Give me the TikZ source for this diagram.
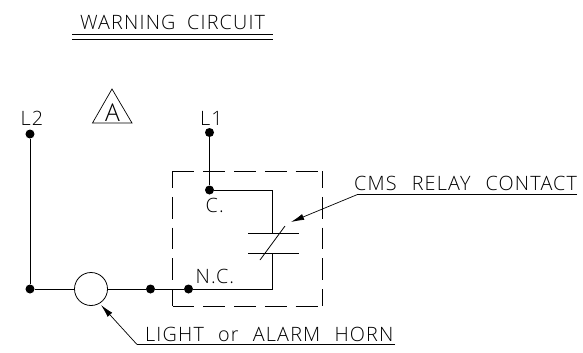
\documentclass[tikz,border=0pt]{standalone}
\usepackage{fontspec}
\setmainfont{Open Sans Light}[LetterSpace=6]
\usepackage{tikz}
\usetikzlibrary{positioning,shapes,arrows.meta}
\tikzset{
  wire/.style={black,line width=0.9pt},
  dot/.style={circle,fill=black,inner sep=0pt,minimum size=0.36cm},
  lamp/.style={circle,draw=black,line width=0.9pt,fill=white,inner sep=0pt,minimum size=1.32cm},
  boxline/.style={black,line width=0.9pt,dash pattern=on 25pt off 10pt},
  boxside/.style={boxline,dash phase=5.7pt},
  leader/.style={black,line width=0.8pt},
  pointer/.style={leader,-{Latex[length=15pt,width=7pt]}},
  cadtext/.style={inner sep=0pt,anchor=base west,font=\fontsize{22.5}{22.5}\selectfont},
}
\begin{document}
\begin{tikzpicture}[x=0.04cm,y=0.04cm]
\useasboundingbox (0,0) rectangle (583,-352);
\node [cadtext] (title) at (80,-29) {WARNING\hspace{6pt} CIRCUIT};
\coordinate (ulA) at (72,-34);
\coordinate (ulB) at (273,-34);
\coordinate (ulC) at (72,-39);
\coordinate (ulD) at (273,-39);
\draw [leader] (ulA) -- (ulB);
\draw [leader] (ulC) -- (ulD);
\coordinate (triTop) at (112,-89);
\coordinate (triLeft) at (92.5,-123);
\coordinate (triRight) at (132,-123);
\draw [leader] (triTop) -- (triLeft) -- (triRight) -- cycle;
\node [cadtext,anchor=base,font=\fontsize{28}{28}\selectfont] (rev) at (112.5,-121) {A};
\node [cadtext] (lTwo) at (20.5,-125) {L2};
\node [cadtext] (lOne) at (200,-125) {L1};
\node [dot] (dotLTwo) at (30,-134) {};
\node [dot] (dotLOne) at (209.5,-132.5) {};
\node [dot] (dotC) at (209.5,-190) {};
\node [dot] (dotNC) at (188.5,-289) {};
\node [dot] (dotMid) at (150.5,-289) {};
\node [dot] (dotLeft) at (30,-289) {};
\node [lamp] (lamp) at (91,-289) {};
\coordinate (boxA) at (172.5,-171);
\coordinate (boxB) at (322,-171);
\coordinate (boxC) at (322,-306);
\coordinate (boxD) at (172.5,-306);
\draw [boxline] (boxA) -- (boxB);
\draw [boxline] (boxD) -- (boxC);
\draw [boxside] (boxA) -- (boxD);
\draw [boxside] (boxB) -- (boxC);
\node [cadtext] (labC) at (205.5,-212) {C.};
\node [cadtext] (labNC) at (195.5,-283) {N.C.};
\coordinate (cornerTop) at (272.5,-190);
\coordinate (cornerBot) at (272.5,-289);
\coordinate (plateTopMid) at (272.5,-233.5);
\coordinate (plateBotMid) at (272.5,-253);
\coordinate (plateTopL) at (248,-233.5);
\coordinate (plateTopR) at (299,-233.5);
\coordinate (plateBotL) at (248,-253);
\coordinate (plateBotR) at (299,-253);
\coordinate (slashA) at (260,-260);
\coordinate (slashB) at (285,-226);
\draw [wire] (dotLOne) -- (dotC);
\draw [wire] (dotC) -- (cornerTop) -- (plateTopMid);
\draw [wire] (plateBotMid) -- (cornerBot) -- (dotNC);
\draw [wire] (plateTopL) -- (plateTopR);
\draw [wire] (plateBotL) -- (plateBotR);
\draw [wire] (slashA) -- (slashB);
\draw [wire] (dotNC) -- (dotMid);
\draw [wire] (dotMid) -- (lamp);
\draw [wire] (lamp) -- (dotLeft);
\draw [wire] (dotLeft) -- (dotLTwo);
\node [cadtext] (labRelay) at (354,-190) {CMS\hspace{10pt} RELAY\hspace{10pt} CONTACT};
\coordinate (relayEnd) at (577,-194.7);
\coordinate (relayKnee) at (357,-194.7);
\coordinate (relayTip) at (291,-222);
\draw [leader] (relayEnd) -- (relayKnee);
\draw [pointer] (relayKnee) -- (relayTip);
\node [cadtext] (labHorn) at (145,-341) {LIGHT\hspace{9pt} or\hspace{9pt} ALARM\hspace{9pt} HORN};
\coordinate (hornEnd) at (395,-344.5);
\coordinate (hornKnee) at (137,-344.5);
\coordinate (hornTip) at (101,-305);
\draw [leader] (hornEnd) -- (hornKnee);
\draw [pointer] (hornKnee) -- (hornTip);
\end{tikzpicture}
\end{document}
